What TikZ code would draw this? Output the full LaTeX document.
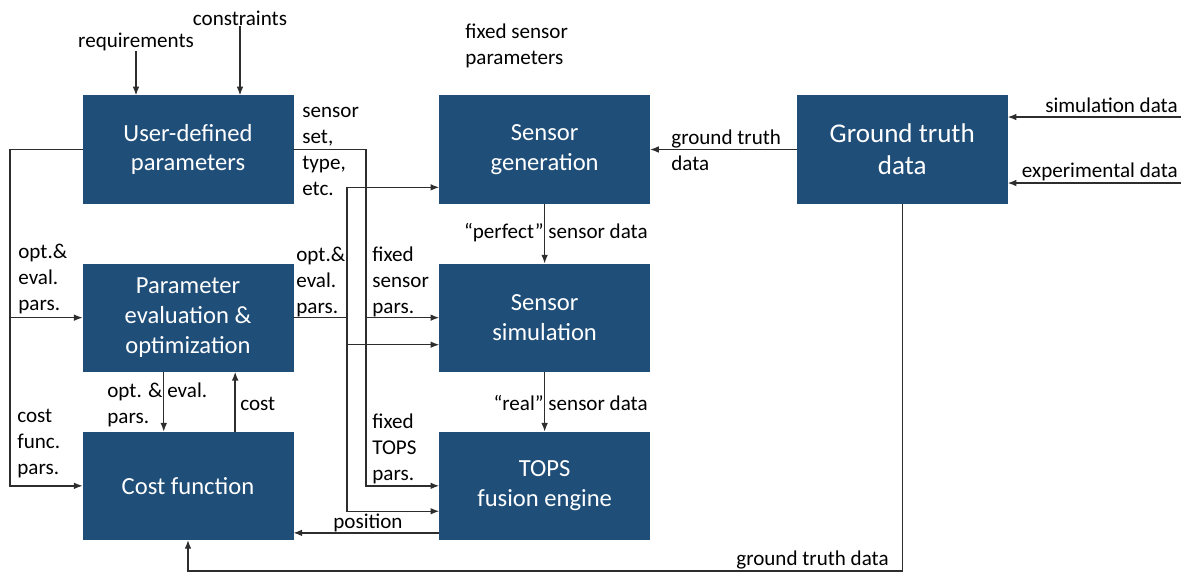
\documentclass[tikz,border=0pt]{standalone}
\usepackage{fontspec}
\setmainfont{Carlito}
\usepackage{tikz}
\usetikzlibrary{positioning,calc,arrows.meta}
\definecolor{BoxBlue}{RGB}{31,78,121}
\definecolor{WireGray}{RGB}{45,45,45}

\begin{document}
\begin{tikzpicture}[x=0.02cm, y=-0.02cm]
	\tikzset{
		blk/.style={
			shape=rectangle,
			fill=BoxBlue,
			draw=BoxBlue,
			minimum width=4.2cm,
			minimum height=2.15cm,
			inner sep=0pt,
			align=center,
			font=\fontsize{14}{17}\selectfont,
			text=white
		},
		lbl/.style={font=\fontsize{12}{14.8}\selectfont, align=left, inner sep=0pt, text=black},
		wire/.style={draw=WireGray, line width=0.8pt},
		arr/.style={wire, -{Latex[length=5pt,width=3.8pt]}}
	}
	\useasboundingbox (0,0) rectangle (1184,573);

	% blocks
	\node[blk] (ud) at (188,149.5) {User-defined\\parameters};
	\node[blk, below=1.2cm of ud] (pe) {Parameter\\evaluation \&\\optimization};
	\node[blk, below=1.2cm of pe] (cf) {Cost function};
	\node[blk, right=2.92cm of ud] (sg) {Sensor\\generation};
	\node[blk, below=1.2cm of sg] (ss) {Sensor\\simulation};
	\node[blk, below=1.2cm of ss] (tp) {TOPS\\fusion engine};
	\node[blk, right=2.94cm of sg, font=\fontsize{15.4}{18.4}\selectfont] (gt) {Ground truth\\data};

	% free labels
	\node[lbl] (req) at (136,42) {requirements};
	\node[lbl] (con) at (240,18) {constraints};
	\node[lbl, anchor=west] (fsp) at (465,46) {fixed sensor\\parameters};
	\node[lbl, anchor=east] (sim) at (1178,105) {simulation data};
	\node[lbl, anchor=east] (exp) at (1178,172) {experimental data};

	% bus positions
	\coordinate (lx) at (10,0);
	\coordinate (mx1) at (347,0);
	\coordinate (mx2) at (366,0);
	\coordinate (rx) at (1181,0);
	\coordinate (bot) at (0,571);
	\coordinate (sgin) at ($(sg.west)!0.7!(sg.south west)$);
	\coordinate (ssin) at ($(ss.west)!0.5!(ss.south west)$);
	\coordinate (tpin) at ($(tp.west)!0.47!(tp.south west)$);
	\coordinate (posn) at ($(tp.west)!0.87!(tp.south west)$);
	\coordinate (pedn) at ($(pe.south west)!0.385!(pe.south east)$);
	\coordinate (cfup) at ($(cf.north west)!0.724!(cf.north east)$);
	\coordinate (simin) at ($(gt.north east)!0.2!(gt.south east)$);
	\coordinate (expin) at ($(gt.north east)!0.81!(gt.south east)$);

	% connectors
	\draw[arr] (req.south) -- (req.south |- ud.north);
	\draw[arr] (con.south) -- (con.south |- ud.north);
	\draw[arr] (ud.west) -- (ud.west -| lx) |- (cf.west);
	\draw[arr] (pe.west -| lx) -- (pe.west);
	\draw[arr] (ud.east) -- (ud.east -| mx2) |- (tp.west);
	\draw[arr] (ss.west -| mx2) -- (ss.west);
	\draw[arr] (pe.east) -- (pe.east -| mx1) |- (sgin);
	\draw[arr] (pe.east -| mx1) |- (ssin);
	\draw[arr] (pe.east -| mx1) |- (tpin);
	\draw[arr] (pedn) -- (pedn |- cf.north);
	\draw[arr] (cfup) -- (cfup |- pe.south);
	\draw[arr] (sg) -- (ss);
	\draw[arr] (ss) -- (tp);
	\draw[arr] (posn) -- (posn -| cf.east);
	\draw[arr] (gt) -- (sg);
	\draw[arr] (simin -| rx) -- (simin);
	\draw[arr] (expin -| rx) -- (expin);
	\draw[arr] (gt.south) -- (gt.south |- bot) -| (cf.south);

	% connector labels
	\node[lbl, anchor=west] at (302,151) {sensor\\set,\\type,\\etc.};
	\node[lbl, anchor=west] at (18,279) {opt.\&\\eval.\\pars.};
	\node[lbl, anchor=west] at (17,444) {cost\\func.\\pars.};
	\node[lbl, anchor=west] at (107,405) {opt. \& eval.\\pars.};
	\node[lbl, anchor=west] at (240,404) {cost};
	\node[lbl, anchor=west] at (296,282) {opt.\&\\eval.\\pars.};
	\node[lbl, anchor=west] at (372,282) {fixed\\sensor\\pars.};
	\node[lbl, anchor=west] at (372,449) {fixed\\TOPS\\pars.};
	\node[lbl, anchor=west] at (333,523) {position};
	\node[lbl, anchor=east] at (648,233) {“perfect” sensor data};
	\node[lbl, anchor=east] at (648,403) {“real” sensor data};
	\node[lbl, anchor=west] at (671,150) {ground truth\\data};
	\node[lbl, anchor=east] at (889,560) {ground truth data};
\end{tikzpicture}
\end{document}
